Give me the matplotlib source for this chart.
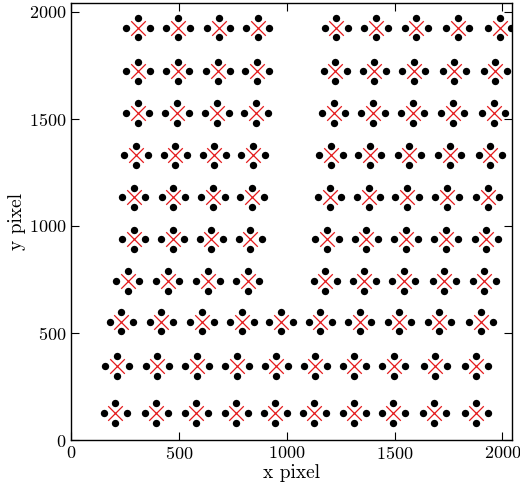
import matplotlib
matplotlib.use("Agg")
import matplotlib.pyplot as plt
import numpy as np

plt.rcParams['font.family'] = 'serif'
plt.rcParams['font.serif'] = ['cmr10', 'DejaVu Serif']
plt.rcParams['axes.formatter.use_mathtext'] = True

# cross centres per row (x list, y list)
row_y = [128, 347, 553, 743, 938, 1134, 1329, 1527, 1721, 1924]
row_x = [
    [204, 394, 580, 766, 947, 1128, 1312, 1494, 1684, 1878],
    [212, 400, 583, 769, 951, 1132, 1313, 1495, 1688, 1878],
    [232, 417, 606, 792, 973, 1155, 1337, 1521, 1707, 1900],
    [261, 447, 634, 818, 1178, 1359, 1541, 1730, 1916],
    [289, 470, 649, 830, 1186, 1368, 1552, 1738, 1925],
    [289, 474, 657, 838, 1198, 1379, 1557, 1743, 1931],
    [300, 482, 663, 843, 1205, 1384, 1568, 1755, 1943],
    [308, 490, 676, 857, 1217, 1399, 1583, 1769, 1959],
    [309, 493, 680, 861, 1225, 1405, 1588, 1777, 1967],
    [309, 495, 683, 864, 1229, 1413, 1600, 1792, 1987],
]
# offsets of the four surrounding dots
dot_dx = [-54, 54, 0, 0]
dot_dy = [0, 0, 45, -45]

cx = np.concatenate([np.array(r, float) for r in row_x])
cy = np.concatenate([np.full(len(r), y, float) for r, y in zip(row_x, row_y)])

fig = plt.figure(figsize=(5.2, 4.92), dpi=100)
ax = fig.add_axes([0.137, 0.105, 0.848, 0.889])

dx = np.concatenate([cx + d for d in dot_dx])
dy = np.concatenate([cy + d for d in dot_dy])
ax.scatter(dx, dy, s=28, c='black', linewidths=0, zorder=2)
ax.scatter(cx, cy, s=110, marker='x', c='#e41a1c', linewidths=0.9, zorder=3)

ax.set_xlim(0, 2045)
ax.set_ylim(0, 2040)
ax.set_xticks([0, 500, 1000, 1500, 2000])
ax.set_yticks([0, 500, 1000, 1500, 2000])
ax.tick_params(direction='in', top=True, right=True, labelsize=13, length=6)
ax.set_xlabel('x pixel', fontsize=14, labelpad=1)
ax.set_ylabel('y pixel', fontsize=14, labelpad=2)
for s in ax.spines.values():
    s.set_linewidth(1.0)

fig.savefig('out.png', dpi=100)
